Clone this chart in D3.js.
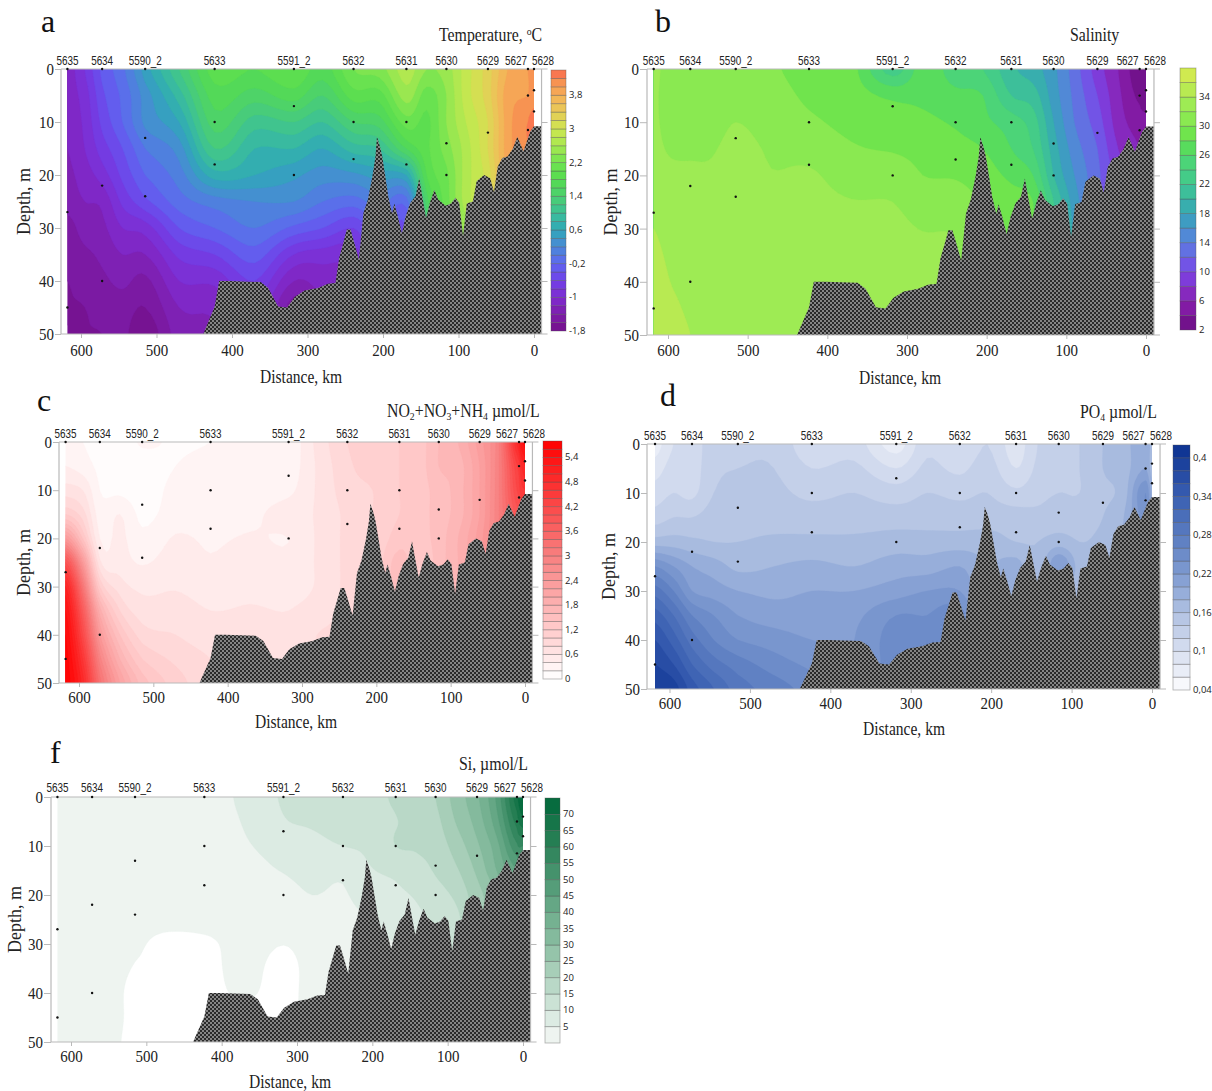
<!DOCTYPE html>
<html>
<head>
<meta charset="utf-8">
<script src="https://cdnjs.cloudflare.com/ajax/libs/d3/7.8.5/d3.min.js"></script>
<style>
    html, body { margin: 0; padding: 0; background: #fff; }
    svg { display: block; }
</style>
</head>
<body>
<svg width="1212" height="1091"></svg>
<script>
var stationNames = ['5635', '5634', '5590_2', '5633', '5591_2', '5632', '5631', '5630', '5629', '5627', '5628'];
var stationKm = [618, 572, 515, 423, 318, 239, 169, 116, 61, 8, 0];
var stationDepths = [[0, 27, 45], [0, 22, 40], [0, 13, 24], [0, 10, 18], [0, 7, 20], [0, 10, 17], [0, 10, 18], [0, 14, 20], [0, 12], [0, 5, 11.5], [0, 4, 8]];

var bottomKm = [438, 423, 417, 403, 362, 352, 339, 327, 317, 304, 286, 273, 263, 258, 253, 248, 243, 238, 232, 226, 220, 214, 210, 208, 204, 201, 197, 193, 188, 185, 180, 175, 170, 164, 157, 152, 148, 143, 138, 132, 127, 117, 110, 104, 99, 94, 89, 81, 76, 66, 58, 53, 48, 42, 35, 28, 22, 14, 5, 0, -10];
var bottomDepth = [50, 44.8, 40, 40, 40.2, 41.3, 44.8, 45, 43, 41.8, 41.3, 40.5, 40.4, 35.6, 33, 30.3, 30.3, 32.8, 36, 27.2, 24.6, 20.2, 16.5, 12.8, 14.6, 16.5, 20.2, 24, 27.2, 25.4, 28, 31, 27.8, 25.3, 24, 20.6, 24, 28.1, 25.3, 22.8, 24.6, 25.8, 25.4, 24.3, 25.3, 31.5, 25.4, 25, 21.2, 20, 20.6, 23.2, 18.4, 16.8, 16.5, 15, 12.8, 15.5, 11.8, 10.8, 10.8];

var distanceTicks = [600, 500, 400, 300, 200, 100, 0];
var depthTicks = [0, 10, 20, 30, 40, 50];

// field columns (km) and rows (m)
var fieldKm = [618, 595, 572, 545, 515, 470, 423, 370, 318, 280, 239, 205, 169, 142, 116, 90, 61, 35, 8, 0];
var fieldDepth = [0, 5, 10, 15, 20, 25, 30, 35, 40, 45, 50];

var tempField = [
    [-1.1, -1.1, -1.15, -1.2, -1.25, -1.3, -1.5, -1.55, -1.6, -1.6, -1.6],
    [-0.8, -0.9, -0.95, -1, -1.1, -1.2, -1.3, -1.45, -1.55, -1.6, -1.6],
    [-0.35, -0.45, -0.55, -0.7, -0.9, -1.15, -1.25, -1.35, -1.45, -1.55, -1.6],
    [-0.05, -0.15, -0.2, -0.4, -0.55, -0.75, -1, -1.2, -1.35, -1.5, -1.55],
    [0.5, 0.3, 0.25, 0, -0.2, -0.45, -0.9, -1.2, -1.45, -1.6, -1.75],
    [1.2, 0.9, 0.6, 0.3, 0.1, -0.1, -0.4, -0.75, -1, -1.2, -1.3],
    [1.9, 1.7, 1.5, 1.2, 0.7, 0.1, -0.2, -0.6, -0.95, -1.15, -1.2],
    [1.8, 1.5, 1.1, 0.8, 0.6, 0.2, 0, -0.3, -0.6, -0.8, -0.8],
    [2, 1.7, 1.2, 0.8, 0.45, 0.2, -0.25, -0.8, -1.2, -1.5, -1.5],
    [1.7, 1.4, 1, 0.6, 0.3, 0, -0.4, -0.9, -1.1, -1.2, -1.2],
    [2.2, 1.9, 1.4, 0.9, 0.35, -0.1, -0.6, -0.9, -1, -1, -1],
    [2.3, 1.9, 1.5, 1, 0.5, 0.1, -0.2, -0.4, -0.4, -0.4, -0.4],
    [2.7, 2.5, 2.1, 1.6, 0.6, -0.1, -0.4, -0.5, -0.5, -0.5, -0.5],
    [2.4, 2.1, 1.95, 1.95, 1.8, 1.5, 1.3, 1.3, 1.3, 1.3, 1.3],
    [2.5, 2.4, 2.4, 2.3, 2.15, 2.1, 2, 2, 2, 2, 2],
    [2.9, 2.9, 2.8, 2.7, 2.7, 2.7, 2.5, 2.5, 2.5, 2.5, 2.5],
    [3.3, 3.3, 3.2, 3.2, 3.1, 3.1, 3.1, 3.1, 3.1, 3.1, 3.1],
    [3.8, 3.9, 3.9, 3.9, 3.9, 3.9, 3.9, 3.9, 3.9, 3.9, 3.9],
    [4, 4, 4.2, 4.2, 4.2, 4.2, 4.2, 4.2, 4.2, 4.2, 4.2],
    [4, 4.1, 4.3, 4.3, 4.3, 4.3, 4.3, 4.3, 4.3, 4.3, 4.3]
];
var tempStops = [-1.8, -1.4, -1, -0.6, -0.2, 0.2, 0.6, 1, 1.4, 1.8, 2.2, 2.6, 3, 3.4, 3.8, 4.2, 4.4];
var tempColors = ['#74108a', '#7d1dab', '#7f2cd0', '#7040e8', '#5f66f0', '#4a88d8', '#30a8b8', '#3cc098', '#4cd070', '#55dc50', '#70e450', '#a8e850', '#cde650', '#e8cc58', '#f5b058', '#f88a50', '#fa6450'];
var tempTicks = ['-1,8', '-1', '-0,2', '0,6', '1,4', '2,2', '3', '3,8'];

var salField = [
    [32.5, 32.3, 32.3, 32.5, 33, 33.5, 34, 34.5, 35, 35.3, 35.5],
    [31, 31, 31.2, 31.7, 32.5, 32.8, 33.1, 33.5, 33.9, 34.5, 35],
    [31, 31, 31, 31.7, 32.3, 32.5, 32.8, 33, 33.2, 33.6, 34],
    [30.5, 30.7, 31, 31.8, 32.3, 32.5, 32.7, 32.9, 33, 33.2, 33.4],
    [30.5, 31, 32, 32.7, 33, 33, 33, 33, 33, 33, 33],
    [30.2, 30.6, 31, 31.7, 32.1, 32.6, 32.8, 33, 33, 33, 33],
    [29.3, 29.7, 30.3, 31.2, 32.3, 32.7, 32.8, 33, 33, 33, 33],
    [28.7, 29, 29.5, 30.2, 31, 32.1, 32.6, 32.8, 33, 33, 33],
    [23, 27.5, 29, 29.8, 31.3, 32, 32.6, 33, 33, 33, 33],
    [27, 27.5, 28.5, 29.3, 30, 31, 31.9, 32.8, 33, 33, 33],
    [25, 26.5, 27.7, 28.8, 29.8, 31, 31.8, 32, 32, 32, 32],
    [24, 26, 26.5, 28, 29, 29.8, 30, 30, 30, 30, 30],
    [20.5, 22, 25, 26, 27.5, 29, 29.5, 29.5, 29.5, 29.5, 29.5],
    [19, 21, 23, 24, 26, 28, 28, 28, 28, 28, 28],
    [16.5, 17, 18, 19, 20, 22, 22, 22, 22, 22, 22],
    [13, 13.5, 14, 15, 16, 17, 17.5, 17.5, 17.5, 17.5, 17.5],
    [9, 10, 11, 12, 12.5, 12.5, 12.5, 12.5, 12.5, 12.5, 12.5],
    [6, 6.5, 7, 8, 9, 9, 9, 9, 9, 9, 9],
    [2.5, 3.5, 5, 6, 6, 6, 6, 6, 6, 6, 6],
    [2.2, 3, 4.5, 5, 5, 5, 5, 5, 5, 5, 5]
];
var salStops = [2, 6, 10, 14, 18, 22, 26, 28, 30, 34, 36, 38];
var salColors = ['#6a0d80', '#8a1fb0', '#7a45e8', '#5a80e0', '#35a5b8', '#40c890', '#50d870', '#5fe04a', '#80e850', '#a8ec55', '#c8e84f', '#d8ec50'];
var salTicks = ['2', '6', '10', '14', '18', '22', '26', '30', '34'];

var nitField = [
    [0.2, 0.4, 0.7, 1.2, 2.4, 4, 5, 5.4, 5.6, 5.7, 5.75],
    [0.2, 0.3, 0.6, 0.9, 1.4, 2.4, 3.2, 3.8, 4.2, 4.6, 4.9],
    [0.1, 0.15, 0.2, 0.3, 0.4, 0.65, 1.2, 1.9, 2.4, 2.9, 3.3],
    [0.1, 0.1, 0.15, 0.4, 0.45, 0.5, 0.7, 1, 1.4, 1.8, 2.2],
    [0.22, 0.12, 0.1, 0.15, 0.25, 0.38, 0.55, 0.7, 0.9, 1.2, 1.5],
    [0.18, 0.2, 0.25, 0.3, 0.42, 0.5, 0.58, 0.7, 0.8, 0.95, 1.1],
    [0.2, 0.25, 0.25, 0.3, 0.37, 0.42, 0.5, 0.6, 0.7, 0.8, 0.85],
    [0.25, 0.25, 0.3, 0.35, 0.42, 0.5, 0.55, 0.62, 0.7, 0.7, 0.7],
    [0.25, 0.28, 0.35, 0.5, 0.4, 0.45, 0.5, 0.6, 0.62, 0.62, 0.62],
    [0.65, 0.62, 0.62, 0.62, 0.62, 0.62, 0.62, 0.7, 0.8, 0.8, 0.8],
    [1, 0.95, 0.9, 0.85, 0.85, 0.85, 0.85, 0.85, 0.85, 0.85, 0.85],
    [1.1, 1.1, 1, 1, 1, 1, 1, 1, 1, 1, 1],
    [1.2, 1.2, 1.2, 1.2, 1.3, 1.5, 1.5, 1.5, 1.5, 1.5, 1.5],
    [1.3, 1.3, 1.3, 1.3, 1.3, 1.2, 1.2, 1.2, 1.2, 1.2, 1.2],
    [1.6, 1.6, 1.5, 1.5, 1.5, 1.5, 1.5, 1.5, 1.5, 1.5, 1.5],
    [1.8, 1.7, 1.7, 1.7, 1.8, 1.8, 1.8, 1.8, 1.8, 1.8, 1.8],
    [2.3, 2.2, 2.2, 2.2, 2.3, 2.3, 2.3, 2.3, 2.3, 2.3, 2.3],
    [3, 3, 3, 3, 3, 3, 3, 3, 3, 3, 3],
    [5, 4.5, 4.3, 4, 4, 4, 4, 4, 4, 4, 4],
    [5.5, 5, 4.6, 4.2, 4.2, 4.2, 4.2, 4.2, 4.2, 4.2, 4.2]
];
var nitStops = [0, 0.2, 1.2, 3, 5.8];
var nitColors = ['#ffffff', '#fff8f8', '#ffcccc', '#f88080', '#ff0000'];
var nitTicks = ['0', '0,6', '1,2', '1,8', '2,4', '3', '3,6', '4,2', '4,8', '5,4'];

var phosField = [
    [0.07, 0.09, 0.11, 0.13, 0.17, 0.24, 0.29, 0.33, 0.36, 0.38, 0.4],
    [0.1, 0.11, 0.12, 0.14, 0.17, 0.22, 0.26, 0.3, 0.33, 0.36, 0.39],
    [0.11, 0.11, 0.115, 0.14, 0.165, 0.2, 0.22, 0.26, 0.29, 0.32, 0.35],
    [0.13, 0.135, 0.14, 0.15, 0.16, 0.19, 0.21, 0.24, 0.26, 0.29, 0.32],
    [0.135, 0.14, 0.145, 0.15, 0.16, 0.175, 0.2, 0.22, 0.24, 0.27, 0.29],
    [0.135, 0.14, 0.145, 0.15, 0.165, 0.18, 0.195, 0.21, 0.23, 0.25, 0.27],
    [0.105, 0.12, 0.135, 0.15, 0.165, 0.185, 0.2, 0.21, 0.22, 0.235, 0.25],
    [0.11, 0.125, 0.14, 0.15, 0.165, 0.18, 0.2, 0.215, 0.22, 0.22, 0.22],
    [0.07, 0.1, 0.13, 0.15, 0.17, 0.19, 0.21, 0.24, 0.25, 0.25, 0.25],
    [0.115, 0.125, 0.14, 0.15, 0.17, 0.19, 0.22, 0.24, 0.24, 0.24, 0.24],
    [0.1, 0.115, 0.135, 0.15, 0.17, 0.2, 0.22, 0.25, 0.25, 0.25, 0.25],
    [0.12, 0.13, 0.14, 0.15, 0.17, 0.18, 0.18, 0.18, 0.18, 0.18, 0.18],
    [0.09, 0.1, 0.125, 0.15, 0.16, 0.19, 0.2, 0.2, 0.2, 0.2, 0.2],
    [0.12, 0.125, 0.135, 0.145, 0.16, 0.16, 0.16, 0.16, 0.16, 0.16, 0.16],
    [0.13, 0.135, 0.14, 0.15, 0.17, 0.22, 0.16, 0.16, 0.16, 0.16, 0.16],
    [0.14, 0.14, 0.14, 0.15, 0.16, 0.17, 0.17, 0.17, 0.17, 0.17, 0.17],
    [0.16, 0.16, 0.155, 0.16, 0.165, 0.165, 0.165, 0.165, 0.165, 0.165, 0.165],
    [0.17, 0.17, 0.17, 0.18, 0.18, 0.18, 0.18, 0.18, 0.18, 0.18, 0.18],
    [0.2, 0.2, 0.24, 0.23, 0.23, 0.23, 0.23, 0.23, 0.23, 0.23, 0.23],
    [0.17, 0.17, 0.19, 0.2, 0.2, 0.2, 0.2, 0.2, 0.2, 0.2, 0.2]
];
var phosStops = [0.04, 0.06, 0.1, 0.16, 0.22, 0.28, 0.34, 0.42];
var phosColors = ['#ffffff', '#eef1f9', '#d8dff0', '#b0c1e2', '#7f9bd1', '#5a7cc0', '#3a5fb2', '#0a3090'];
var phosTicks = ['0,04', '0,1', '0,16', '0,22', '0,28', '0,34', '0,4'];

var siField = [
    [3, 3, 3, 3, 3, 3, 3, 3, 3, 3, 3],
    [3, 3, 3, 3, 3, 3, 3, 3, 3, 3, 3],
    [3, 3, 3, 3, 3, 3, 3, 3, 3, 3, 3],
    [3, 3, 3, 3, 3, 3, 3, 3, 3, 3, 2.6],
    [3, 3, 3, 3, 3, 3, 2.5, 1.8, 1, 1, 1],
    [3, 3, 3, 3, 3, 3, 1, 1, 1, 1, 1],
    [3, 3, 3, 3, 3, 3, 1.4, 1, 1, 1, 1],
    [6, 5.3, 4.5, 3.5, 3, 3, 3, 3, 2.4, 1, 1],
    [10.5, 9.6, 7, 5.2, 3.5, 3, 2.05, 1, 1, 1, 1],
    [11.5, 10.6, 8.5, 6.5, 5, 3, 3, 3, 3, 3, 3],
    [13, 12, 10, 6, 4.5, 3.5, 3, 3, 3, 3, 3],
    [13.5, 12.5, 11, 9.5, 7.5, 5, 5, 5, 5, 5, 5],
    [15.6, 14.8, 15, 11, 9, 7, 5, 5, 5, 5, 5],
    [17, 16, 15.5, 13, 10.5, 9, 9, 9, 9, 9, 9],
    [20, 18.5, 17, 15.5, 13, 11, 11, 11, 11, 11, 11],
    [27, 25, 22, 19, 16, 13, 12, 12, 12, 12, 12],
    [34, 32, 29, 26, 23, 23, 23, 23, 23, 23, 23],
    [46, 43, 38, 35, 30, 30, 30, 30, 30, 30, 30],
    [68, 62, 54, 45, 45, 45, 45, 45, 45, 45, 45],
    [75, 68, 55, 47, 47, 47, 47, 47, 47, 47, 47]
];
var siStops = [0, 2.5, 7.5, 12.5, 30, 45, 60, 75];
var siColors = ['#f0f6f2', '#eef4f0', '#dcebe3', '#cbe2d5', '#8cbfa3', '#5da27f', '#2c8258', '#00683a'];
var siTicks = ['5', '10', '15', '20', '25', '30', '35', '40', '45', '50', '55', '60', '65', '70'];

var panels = [
    {
        letter: 'a', letterX: 41, letterY: 32,
        title: [['Temperature, '], ['o', 'sup'], ['C']], titleX: 439, titleY: 41,
        x600: 81, x0: 534, y0: 69, y50: 334, stationY: 65, tickY: 356, labelY: 383, labelX: 301,
        yTickRight: 54, depthX: 30, left: 61, barX: 551, barW: 15, barTop: 70, barBottom: 331,
        field: tempField, stops: tempStops, colors: tempColors, ticks: tempTicks,
        min: -1.8, max: 4.4, step: 0.2, labelStep: 0.8
    },
    {
        letter: 'b', letterX: 655, letterY: 32,
        title: [['Salinity']], titleX: 1070, titleY: 41,
        x600: 668, x0: 1146, y0: 69, y50: 335, stationY: 65, tickY: 356, labelY: 384, labelX: 900,
        yTickRight: 639, depthX: 617, left: 647, barX: 1180, barW: 16, barTop: 68, barBottom: 330,
        field: salField, stops: salStops, colors: salColors, ticks: salTicks,
        min: 2, max: 38, step: 2, labelStep: 4
    },
    {
        letter: 'c', letterX: 37, letterY: 411,
        title: [['NO'], ['2', 'sub'], ['+NO'], ['3', 'sub'], ['+NH'], ['4', 'sub'], [' \u00b5mol/L']], titleX: 387, titleY: 417,
        x600: 79, x0: 525, y0: 442, y50: 683, stationY: 438, tickY: 703, labelY: 728, labelX: 296,
        yTickRight: 52, depthX: 30, left: 59, barX: 543, barW: 19, barTop: 441, barBottom: 679,
        field: nitField, stops: nitStops, colors: nitColors, ticks: nitTicks,
        min: 0, max: 5.8, step: 0.2, labelStep: 0.6
    },
    {
        letter: 'd', letterX: 660, letterY: 406,
        title: [['PO'], ['4', 'sub'], [' \u00b5mol/L']], titleX: 1080, titleY: 418,
        x600: 669.5, x0: 1152, y0: 444, y50: 689, stationY: 440, tickY: 709, labelY: 735, labelX: 904,
        yTickRight: 640, depthX: 615, left: 647, barX: 1173, barW: 17, barTop: 445, barBottom: 690,
        field: phosField, stops: phosStops, colors: phosColors, ticks: phosTicks,
        min: 0.04, max: 0.42, step: 0.02, labelStep: 0.06
    },
    {
        letter: 'f', letterX: 50, letterY: 763,
        title: [['Si, \u00b5mol/L']], titleX: 459, titleY: 770,
        x600: 71, x0: 523, y0: 797, y50: 1042, stationY: 792, tickY: 1062, labelY: 1088, labelX: 290,
        yTickRight: 43, depthX: 21, left: 51, barX: 545, barW: 15, barTop: 798, barBottom: 1043,
        field: siField, stops: siStops, colors: siColors, ticks: siTicks,
        min: 0, max: 75, step: 5, labelStep: 5, firstLevel: 2, tickStart: 5
    }
];

var serif = '"Liberation Serif", "Times New Roman", serif';
var sans = '"Liberation Sans", sans-serif';
var small = '"Open Sans", "DejaVu Sans", sans-serif';
var squeeze = 0.88;

var svg = d3.select('svg');
var defs = svg.append('defs');

var pattern = defs.append('pattern')
    .attr('id', 'seabed')
    .attr('patternUnits', 'userSpaceOnUse')
    .attr('width', 4)
    .attr('height', 4);
pattern.append('rect').attr('width', 4).attr('height', 4).attr('fill', '#2a2a2a');
pattern.append('rect').attr('width', 2).attr('height', 2).attr('fill', '#858585');
pattern.append('rect').attr('x', 2).attr('y', 2).attr('width', 2).attr('height', 2).attr('fill', '#858585');

// catmull-rom through one row or column of the field
function spline(v, t) {
    var n = v.length - 1;
    var s = Math.min(t, n - 1e-9);
    var i = Math.floor(s);
    var u = s - i;
    var p0 = v[Math.max(i - 1, 0)], p1 = v[i], p2 = v[i + 1], p3 = v[Math.min(i + 2, n)];
    return 0.5 * (2 * p1 + (p2 - p0) * u + (2 * p0 - 5 * p1 + 4 * p2 - p3) * u * u + (3 * p1 - p0 - 3 * p2 + p3) * u * u * u);
}

// resample a coarse field so the contours come out round
function refine(field, k, low) {
    var cols = field.map(function(col) {
        return d3.range((col.length - 1) * k + 1).map(function(i) {
            return spline(col, i / k);
        });
    });
    var h = cols[0].length;
    var w = (cols.length - 1) * k + 1;
    var values = new Array(w * h);
    for (var j = 0; j < h; j++) {
        var row = cols.map(function(c) { return c[j]; });
        for (var i = 0; i < w; i++) {
            values[i + j * w] = Math.max(spline(row, i / k), low);
        }
    }
    return { values: values, w: w, h: h };
}

function drawPanel(p, idx) {
    var g = svg.append('g');
    var x = d3.scaleLinear().domain([600, 0]).range([p.x600, p.x0]);
    var y = d3.scaleLinear().domain([0, 50]).range([p.y0, p.y50]);
    var right = x(-10);

    var color = d3.scaleLinear().domain(p.stops).range(p.colors).interpolate(d3.interpolateRgb);
    var k = 6;
    var grid = refine(p.field, k, p.min + p.step * 0.01);

    var colToKm = d3.scaleLinear().domain(fieldKm.map(function(d, i) { return i * k; })).range(fieldKm);
    var rowToDepth = d3.scaleLinear().domain(fieldDepth.map(function(d, i) { return i * k; })).range(fieldDepth);

    var path = d3.geoPath(d3.geoTransform({
        point: function(px, py) {
            this.stream.point(x(colToKm(px - 0.5)), y(rowToDepth(py - 0.5)));
        }
    }));

    var levels = d3.range(0, Math.round((p.max - p.min) / p.step)).map(function(i) {
        return p.min + i * p.step;
    });

    var thresholds = levels.slice();
    if (p.firstLevel) thresholds[0] = p.firstLevel;

    var contours = d3.contours().size([grid.w, grid.h]).thresholds(thresholds).smooth(true)(grid.values);

    defs.append('clipPath').attr('id', 'clip' + idx)
        .append('rect')
        .attr('x', x(618))
        .attr('y', y(0))
        .attr('width', x(0) - x(618))
        .attr('height', y(50) - y(0));

    g.append('g')
        .attr('clip-path', 'url(#clip' + idx + ')')
        .selectAll('path')
        .data(contours)
        .enter()
        .append('path')
        .attr('d', path)
        .attr('fill', function(d, i) { return color(levels[i] + p.step / 2); })
        .attr('stroke', function(d, i) { return color(levels[i] + p.step / 2); })
        .attr('stroke-width', 0.3);

    var bottom = d3.area()
        .x(function(d) { return x(d[0]); })
        .y0(y(50))
        .y1(function(d) { return y(d[1]); });

    g.append('path')
        .datum(d3.zip(bottomKm, bottomDepth))
        .attr('d', bottom)
        .attr('fill', 'url(#seabed)');

    // frame
    var frame = g.append('g').attr('stroke', '#b9b9b9').attr('stroke-width', 1.2);
    frame.append('line').attr('x1', p.left).attr('x2', right + 6).attr('y1', y(0)).attr('y2', y(0));
    frame.append('line').attr('x1', p.left).attr('x2', right + 6).attr('y1', y(50)).attr('y2', y(50));
    frame.append('line').attr('x1', p.left).attr('x2', p.left).attr('y1', y(0)).attr('y2', y(50));
    frame.append('line').attr('x1', right).attr('x2', right).attr('y1', y(0)).attr('y2', y(50));

    var rightAxis = d3.axisRight(y).tickValues([10, 20, 30, 40]).tickSize(6).tickSizeOuter(0).tickFormat('');
    var rightG = g.append('g').attr('transform', 'translate(' + right + ',0)').call(rightAxis);
    rightG.select('.domain').remove();
    rightG.selectAll('line').attr('stroke', '#b9b9b9');

    var leftAxis = d3.axisLeft(y).tickValues(depthTicks).tickSize(p.left - p.yTickRight - 1).tickSizeOuter(0);
    var leftG = g.append('g').attr('transform', 'translate(' + p.left + ',0)').call(leftAxis);
    leftG.select('.domain').remove();
    leftG.selectAll('line').attr('stroke', '#b9b9b9');
    leftG.selectAll('text')
        .attr('x', (p.yTickRight - p.left) / squeeze)
        .attr('transform', 'scale(' + squeeze + ',1)')
        .attr('font-family', serif)
        .attr('font-size', 17)
        .attr('fill', '#222');

    var bottomAxis = d3.axisBottom(x).tickValues(distanceTicks).tickSize(4).tickSizeOuter(0);
    var bottomG = g.append('g').attr('transform', 'translate(0,' + p.y50 + ')').call(bottomAxis);
    bottomG.select('.domain').remove();
    bottomG.selectAll('line').attr('stroke', '#b9b9b9');
    bottomG.selectAll('text')
        .attr('y', p.tickY - p.y50)
        .attr('dy', 0)
        .attr('transform', 'scale(' + squeeze + ',1)')
        .attr('font-family', serif)
        .attr('font-size', 17)
        .attr('fill', '#222');

    // stations
    stationNames.forEach(function(name, i) {
        var shift = name === '5627' ? -12 : (name === '5628' ? 9 : 0);
        g.append('text')
            .attr('x', x(stationKm[i]) + shift)
            .attr('y', p.stationY)
            .attr('text-anchor', 'middle')
            .attr('font-family', sans)
            .attr('font-size', 13.5)
            .attr('textLength', name.length * 5.5)
            .attr('lengthAdjust', 'spacingAndGlyphs')
            .attr('fill', '#222')
            .text(name);
    });

    var samples = [];
    stationKm.forEach(function(km, i) {
        stationDepths[i].forEach(function(d) { samples.push([km, d]); });
    });

    g.selectAll('circle.sample')
        .data(samples)
        .enter()
        .append('circle')
        .attr('class', 'sample')
        .attr('cx', function(d) { return x(d[0]); })
        .attr('cy', function(d) { return y(d[1]); })
        .attr('r', 1.2)
        .attr('fill', '#111');

    // titles and labels
    g.append('text')
        .attr('x', p.letterX)
        .attr('y', p.letterY)
        .attr('font-family', serif)
        .attr('font-size', 32)
        .attr('fill', '#111')
        .text(p.letter);

    var title = g.append('text')
        .attr('transform', 'translate(' + p.titleX + ',' + p.titleY + ') scale(' + squeeze + ',1)')
        .attr('font-family', serif)
        .attr('font-size', 18)
        .attr('fill', '#222');
    title.selectAll('tspan')
        .data(p.title)
        .enter()
        .append('tspan')
        .attr('font-size', function(d) { return d[1] ? 11 : 18; })
        .attr('baseline-shift', function(d) {
            return d[1] === 'sub' ? '-3' : (d[1] === 'sup' ? '6' : null);
        })
        .text(function(d) { return d[0]; });

    g.append('text')
        .attr('x', p.labelX)
        .attr('y', p.labelY)
        .attr('text-anchor', 'middle')
        .attr('font-family', serif)
        .attr('font-size', 19)
        .attr('textLength', 82)
        .attr('lengthAdjust', 'spacingAndGlyphs')
        .attr('fill', '#222')
        .text('Distance, km');

    g.append('text')
        .attr('transform', 'translate(' + p.depthX + ',' + (p.y0 + p.y50) / 2 + ') rotate(-90)')
        .attr('text-anchor', 'middle')
        .attr('font-family', serif)
        .attr('font-size', 18)
        .attr('fill', '#222')
        .text('Depth, m');

    // colour bar
    var bar = d3.scaleLinear().domain([p.min, p.max]).range([p.barBottom, p.barTop]);

    g.append('g')
        .selectAll('rect')
        .data(levels)
        .enter()
        .append('rect')
        .attr('x', p.barX)
        .attr('width', p.barW)
        .attr('y', function(d) { return bar(d + p.step); })
        .attr('height', function(d) { return bar(d) - bar(d + p.step); })
        .attr('fill', function(d) { return color(d + p.step / 2); })
        .attr('stroke', 'rgba(80,80,80,0.45)')
        .attr('stroke-width', 0.8);

    var tickStart = p.tickStart === undefined ? p.min : p.tickStart;

    g.append('g')
        .selectAll('text')
        .data(p.ticks)
        .enter()
        .append('text')
        .attr('x', p.barX + p.barW + 3)
        .attr('y', function(d, i) { return bar(tickStart + i * p.labelStep) + 3; })
        .attr('font-family', small)
        .attr('font-size', 9.5)
        .attr('fill', '#222')
        .text(function(d) { return d; });
}

panels.forEach(drawPanel);
</script>
</body>
</html>
